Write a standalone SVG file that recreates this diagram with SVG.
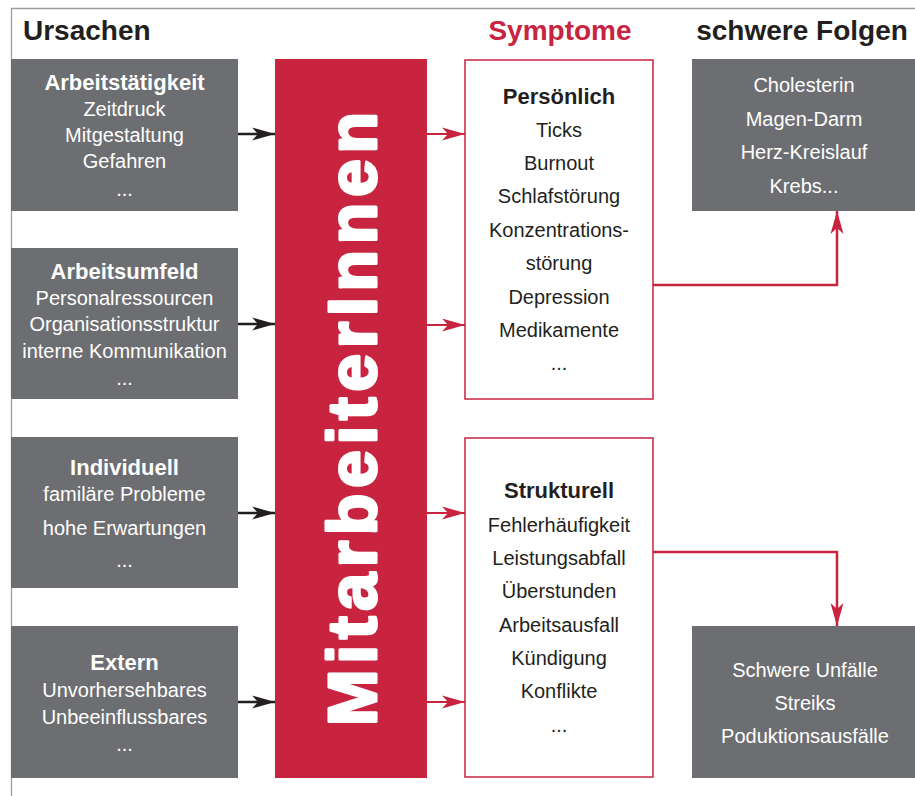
<svg xmlns="http://www.w3.org/2000/svg" width="915" height="796" viewBox="0 0 915 796">
<style>
text{font-family:"Liberation Sans",Arial,sans-serif;text-anchor:middle}
.hd{font-size:28px;font-weight:700}
.t{font-size:20px}
.b{font-size:22px;font-weight:700}
.w{fill:#ffffff}
.k{fill:#231f20}
.gray{fill:#6d6e71}
.sym{fill:#ffffff;stroke:#c8233f;stroke-width:1.5}
.ca{stroke:#231f20;stroke-width:2.5;fill:none}
.ra{stroke:#c8233f;stroke-width:1.8;fill:none}
.rc{stroke:#c8233f;stroke-width:2.5;fill:none}
</style>
<defs>
<marker id="ab" markerUnits="userSpaceOnUse" markerWidth="24" markerHeight="14" refX="23" refY="7" orient="auto">
<path d="M0,0.5 L23,7 L0,13.5 L6,7 Z" fill="#231f20"/>
</marker>
<marker id="ar" markerUnits="userSpaceOnUse" markerWidth="24" markerHeight="14" refX="23" refY="7" orient="auto">
<path d="M0,0.5 L23,7 L0,13.5 L6,7 Z" fill="#c8233f"/>
</marker>
</defs>
<rect width="915" height="796" fill="#ffffff"/>
<path d="M11.5,796 V8.5 H915" fill="none" stroke="#9d9d9d" stroke-width="1.3"/>
<g id="headers">
<text class="hd k" x="23" y="40" style="text-anchor:start">Ursachen</text>
<text class="hd" x="560" y="40" fill="#c8233f">Symptome</text>
<text class="hd k" x="802" y="40">schwere Folgen</text>
</g>
<g id="arbeitstaetigkeit">
<rect class="gray" x="11" y="59" width="227" height="152"/>
<text class="b w" x="124.5" y="90">Arbeitstätigkeit</text>
<text class="t w" x="124.5" y="116">Zeitdruck</text>
<text class="t w" x="124.5" y="142">Mitgestaltung</text>
<text class="t w" x="124.5" y="168">Gefahren</text>
<text class="t w" x="124.5" y="196">...</text>
</g>
<g id="arbeitsumfeld">
<rect class="gray" x="11" y="248" width="227" height="151"/>
<text class="b w" x="124.5" y="279">Arbeitsumfeld</text>
<text class="t w" x="124.5" y="305">Personalressourcen</text>
<text class="t w" x="124.5" y="331">Organisationsstruktur</text>
<text class="t w" x="124.5" y="358">interne Kommunikation</text>
<text class="t w" x="124.5" y="385">...</text>
</g>
<g id="individuell">
<rect class="gray" x="11" y="437" width="227" height="151"/>
<text class="b w" x="124.5" y="475">Individuell</text>
<text class="t w" x="124.5" y="501">familäre Probleme</text>
<text class="t w" x="124.5" y="535">hohe Erwartungen</text>
<text class="t w" x="124.5" y="567">...</text>
</g>
<g id="extern">
<rect class="gray" x="11" y="626" width="227" height="152"/>
<text class="b w" x="124.5" y="670">Extern</text>
<text class="t w" x="124.5" y="697">Unvorhersehbares</text>
<text class="t w" x="124.5" y="724">Unbeeinflussbares</text>
<text class="t w" x="124.5" y="751">...</text>
</g>
<g id="mitarbeiterinnen">
<rect x="275" y="59" width="152" height="719" fill="#c8233f"/>
<text transform="translate(376,419) rotate(-90)" x="0" y="0" font-size="68" font-weight="700" fill="#ffffff" stroke="#ffffff" stroke-width="3" stroke-linejoin="round" textLength="614" lengthAdjust="spacing">MitarbeiterInnen</text>
</g>
<g id="persoenlich">
<rect class="sym" x="465" y="60" width="188" height="339"/>
<text class="b k" x="559" y="104">Persönlich</text>
<text class="t k" x="559" y="137">Ticks</text>
<text class="t k" x="559" y="170">Burnout</text>
<text class="t k" x="559" y="203">Schlafstörung</text>
<text class="t k" x="559" y="237">Konzentrations-</text>
<text class="t k" x="559" y="270">störung</text>
<text class="t k" x="559" y="304">Depression</text>
<text class="t k" x="559" y="337">Medikamente</text>
<text class="t k" x="559" y="370">...</text>
</g>
<g id="strukturell">
<rect class="sym" x="465" y="438" width="188" height="339"/>
<text class="b k" x="559" y="498">Strukturell</text>
<text class="t k" x="559" y="532">Fehlerhäufigkeit</text>
<text class="t k" x="559" y="565">Leistungsabfall</text>
<text class="t k" x="559" y="598">Überstunden</text>
<text class="t k" x="559" y="632">Arbeitsausfall</text>
<text class="t k" x="559" y="665">Kündigung</text>
<text class="t k" x="559" y="698">Konflikte</text>
<text class="t k" x="559" y="732">...</text>
</g>
<g id="folgen-gesundheit">
<rect class="gray" x="692" y="59" width="223" height="152"/>
<text class="t w" x="804" y="92">Cholesterin</text>
<text class="t w" x="804" y="126">Magen-Darm</text>
<text class="t w" x="804" y="159">Herz-Kreislauf</text>
<text class="t w" x="804" y="193">Krebs...</text>
</g>
<g id="folgen-betrieb">
<rect class="gray" x="692" y="626" width="223" height="152"/>
<text class="t w" x="805" y="677">Schwere Unfälle</text>
<text class="t w" x="805" y="710">Streiks</text>
<text class="t w" x="805" y="743">Poduktionsausfälle</text>
</g>
<g id="connectors">
<line class="ca" x1="238" y1="134" x2="275" y2="134" marker-end="url(#ab)"/>
<line class="ca" x1="238" y1="324" x2="275" y2="324" marker-end="url(#ab)"/>
<line class="ca" x1="238" y1="513" x2="275" y2="513" marker-end="url(#ab)"/>
<line class="ca" x1="238" y1="702" x2="275" y2="702" marker-end="url(#ab)"/>
<line class="ra" x1="427" y1="134" x2="465" y2="134" marker-end="url(#ar)"/>
<line class="ra" x1="427" y1="325" x2="465" y2="325" marker-end="url(#ar)"/>
<line class="ra" x1="427" y1="513" x2="465" y2="513" marker-end="url(#ar)"/>
<line class="ra" x1="427" y1="702" x2="465" y2="702" marker-end="url(#ar)"/>
<path class="rc" d="M653,285 H837 V211" marker-end="url(#ar)"/>
<path class="rc" d="M653,552 H837 V626" marker-end="url(#ar)"/>
</g>
</svg>
